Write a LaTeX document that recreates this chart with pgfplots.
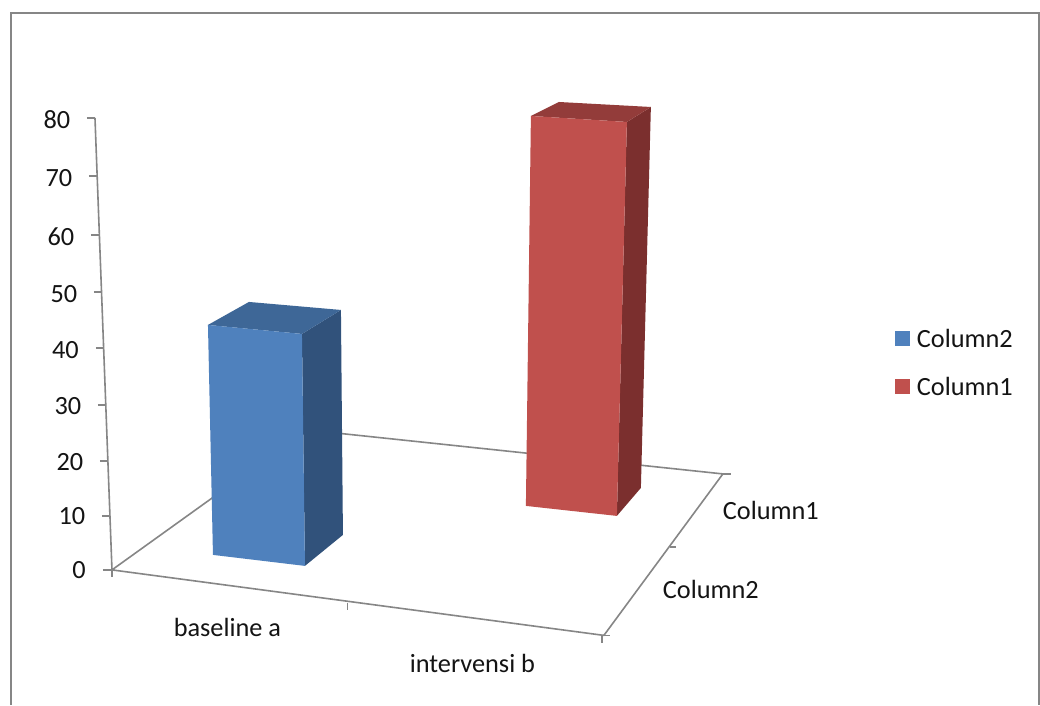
\documentclass[border=0pt]{standalone}
\usepackage{pgfplots}
\pgfplotsset{compat=1.18}
\usepackage{fontspec}
\setmainfont{Carlito}
\definecolor{ln}{HTML}{868686}
\definecolor{bF}{HTML}{4F81BD}
\definecolor{bT}{HTML}{3E6797}
\definecolor{bS}{HTML}{31527B}
\definecolor{rF}{HTML}{C0504D}
\definecolor{rT}{HTML}{933C3A}
\definecolor{rS}{HTML}{7B2F2E}
\newcommand\lab[3]{\node[inner sep=0pt,anchor=center,text=black!92] at (axis cs:#1,#2) {\fontsize{26.3}{30}\selectfont #3};}
\begin{document}
\begin{tikzpicture}
\begin{axis}[
  width=1040pt,height=705pt,scale only axis,
  xmin=0,xmax=1040,ymin=0,ymax=705,y dir=reverse,
  hide axis,clip=false,unbounded coords=jump,
  every axis plot/.append style={no markers},
]
% page corners, white
\addplot[draw=none,fill=white] coordinates {(0,0)(1040,0)(1040,705)(0,705)} --cycle;
% chart frame
\addplot[ln,line width=2pt] coordinates {(11,705)(11,13.3)(1039.2,13.3)(1039.2,705)};
% wall and floor lines
\addplot[ln,line width=1.6pt] coordinates {(95,118)(112,570)(604,635.5)(723,474)(307,430)(112,570)};
% ticks
\addplot[ln,line width=1.4pt] coordinates {
 (87,118)(95,118)(nan,nan)
 (89,176)(97,176)(nan,nan)
 (91,235)(99,235)(nan,nan)
 (94,292)(101,292)(nan,nan)
 (96,348)(103,348)(nan,nan)
 (98,405)(105,405)(nan,nan)
 (100,461)(107,461)(nan,nan)
 (102,516)(110,516)(nan,nan)
 (103,570)(112,570)(nan,nan)
 (112,570)(112,577)(nan,nan)
 (347.5,603)(347.5,610)(nan,nan)
 (602,635.5)(602,643)(nan,nan)
 (604,635.5)(610,635.5)(nan,nan)
 (670,547)(676,547)(nan,nan)
 (723,474)(731,474)
};
% blue bar
\addplot[fill=bS,draw=none] coordinates {(302,334)(341,310)(343,535)(305,566)} --cycle;
\addplot[fill=bT,draw=none] coordinates {(208,325)(249,302)(341,310)(302,334)} --cycle;
\addplot[fill=bF,draw=none] coordinates {(208,325)(302,334)(305,566)(213,555)} --cycle;
% red bar
\addplot[fill=rS,draw=none] coordinates {(627,122)(651,107)(641,488)(617,516)} --cycle;
\addplot[fill=rT,draw=none] coordinates {(531,116)(559,102)(651,107)(627,122)} --cycle;
\addplot[fill=rF,draw=none] coordinates {(531,116)(627,122)(617,516)(526,506)} --cycle;
% legend swatches
\addplot[fill=bF,draw=none] coordinates {(895,331)(910,331)(910,346)(895,346)} --cycle;
\addplot[fill=rF,draw=none] coordinates {(895,379)(910,379)(910,394)(895,394)} --cycle;
% text
\lab{57}{120}{80}
\lab{59}{178}{70}
\lab{61}{237}{60}
\lab{64}{294}{50}
\lab{65.5}{350}{40}
\lab{68}{406}{30}
\lab{70}{462}{20}
\lab{72}{516}{10}
\lab{79}{570}{0}
\lab{227.5}{628}{baseline a}
\lab{472.5}{664}{intervensi b}
\lab{771}{511}{Column1}
\lab{711}{590}{Column2}
\lab{965}{339}{Column2}
\lab{965}{387}{Column1}
\end{axis}
\end{tikzpicture}
\end{document}
